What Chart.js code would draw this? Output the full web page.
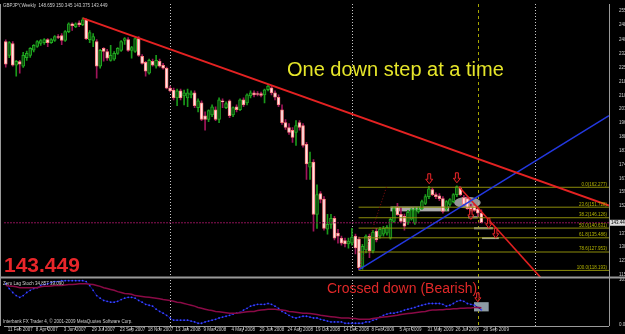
<!DOCTYPE html>
<html>
<head>
<meta charset="utf-8">
<title>GBPJPY Weekly</title>
<script src="https://cdn.jsdelivr.net/npm/chart.js@4.4.1/dist/chart.umd.min.js"></script>
<style>
  html, body { margin: 0; padding: 0; background: #000; }
  #wrap { position: relative; width: 625px; height: 334px; background: #000; }
</style>
</head>
<body>
<div id="wrap"><canvas id="chart" width="625" height="334"></canvas></div>
<script>
// weekly bars, bar 0 = 11 Feb 2007, last bar = 20 Sep 2009
const opens = [
  239.6, 232.2, 238.5, 227.0, 229.0, 226.5, 231.0, 232.2, 235.0, 237.0,
  238.5, 239.0, 240.6, 239.0, 240.1, 242.2, 242.7, 240.1, 244.8, 249.0,
  247.5, 249.5, 248.5, 251.1, 240.6, 240.1, 239.6, 226.5, 235.9, 234.3,
  229.6, 230.2, 233.3, 234.9, 240.1, 240.6, 234.9, 234.3, 241.1, 231.7,
  228.5, 222.8, 229.1, 226.5, 229.1, 227.0, 225.4, 214.9, 213.8, 209.7,
  213.4, 210.7, 209.7, 211.3, 212.3, 204.5, 207.1, 200.2, 198.2, 200.7,
  203.4, 198.2, 208.1, 204.5, 208.1, 200.7, 205.0, 203.4, 208.6, 207.0,
  210.7, 212.3, 212.0, 212.0, 211.3, 214.0, 215.0, 212.3, 210.0, 203.4,
  196.6, 194.0, 192.5, 191.4, 196.6, 195.0, 185.0, 173.0, 175.7, 147.9,
  158.9, 156.0, 140.0, 142.6, 145.8, 138.0, 135.3, 134.0, 132.2, 132.7,
  136.4, 134.8, 120.0, 129.0, 136.4, 128.5, 139.0, 136.4, 137.4, 138.0,
  135.3, 144.2, 151.9, 147.9, 146.9, 143.7, 145.3, 143.2, 149.5, 151.0,
  153.7, 157.3, 161.0, 158.4, 157.8, 156.3, 151.0, 153.2, 154.7, 158.4,
  162.0, 156.8, 156.3, 152.1, 152.6, 150.8, 148.659
];
const highs = [
  240.5, 239.5, 239.5, 229.6, 229.6, 233.8, 234.5, 236.4, 238.0, 240.1,
  240.6, 241.1, 241.1, 241.1, 242.7, 243.2, 243.8, 245.4, 249.5, 249.5,
  249.5, 250.6, 252.1, 251.6, 245.4, 243.8, 240.6, 235.4, 236.4, 235.4,
  237.5, 234.3, 236.4, 240.1, 241.6, 241.6, 237.0, 241.6, 242.2, 232.7,
  229.1, 230.2, 230.2, 232.2, 230.2, 228.0, 226.0, 216.0, 214.9, 214.4,
  214.4, 213.8, 214.4, 213.4, 213.4, 209.2, 208.1, 202.3, 203.4, 206.0,
  205.0, 209.7, 209.2, 207.6, 208.6, 205.0, 206.0, 209.2, 209.7, 211.8,
  213.4, 213.4, 213.0, 212.8, 214.4, 216.5, 216.0, 213.4, 211.3, 206.0,
  198.2, 196.0, 194.0, 197.6, 197.6, 196.1, 186.1, 181.0, 177.0, 163.6,
  160.0, 157.3, 147.9, 147.9, 146.9, 140.0, 136.4, 135.3, 135.3, 140.5,
  137.4, 135.9, 132.0, 137.0, 137.4, 139.5, 140.5, 141.0, 141.6, 142.0,
  146.0, 152.0, 153.7, 151.5, 148.0, 150.0, 151.0, 151.5, 152.0, 155.5,
  158.4, 162.8, 162.0, 159.4, 158.9, 157.3, 155.2, 156.3, 159.0, 163.1,
  162.6, 158.0, 157.0, 153.2, 153.2, 151.8, 150.345
];
const lows = [
  226.0, 231.0, 226.5, 221.2, 222.8, 225.8, 229.6, 231.2, 234.0, 236.4,
  237.5, 238.0, 236.9, 238.5, 239.6, 241.1, 237.9, 239.6, 244.3, 245.4,
  246.9, 247.5, 248.0, 240.6, 239.0, 236.9, 220.2, 225.4, 229.1, 229.6,
  229.1, 229.6, 232.7, 234.3, 238.0, 234.3, 230.7, 233.8, 231.7, 227.5,
  221.2, 222.3, 226.5, 225.4, 226.0, 224.9, 214.4, 212.8, 208.6, 205.5,
  208.6, 206.0, 205.0, 209.7, 204.5, 202.3, 197.6, 192.5, 197.1, 199.7,
  197.6, 196.6, 204.5, 203.9, 199.2, 199.7, 202.3, 202.9, 205.0, 206.0,
  209.7, 210.2, 210.7, 210.2, 207.0, 213.4, 211.3, 208.6, 205.0, 195.6,
  193.0, 190.3, 186.1, 184.5, 192.5, 183.5, 166.5, 166.5, 139.0, 140.5,
  154.0, 139.5, 137.4, 140.5, 134.3, 132.7, 131.6, 130.6, 130.0, 131.6,
  127.0, 118.5, 118.9, 127.5, 125.0, 127.5, 133.3, 135.3, 136.4, 136.9,
  134.8, 143.7, 147.4, 143.7, 139.5, 142.6, 144.8, 142.6, 148.5, 150.5,
  153.0, 156.3, 157.8, 156.3, 155.2, 148.5, 150.0, 152.1, 154.0, 157.3,
  157.8, 152.6, 150.5, 148.5, 149.5, 146.9, 143.375
];
const closes = [
  227.5, 239.0, 227.0, 229.1, 227.5, 232.2, 233.3, 235.9, 237.5, 239.6,
  240.1, 240.6, 239.0, 240.6, 242.2, 241.7, 240.1, 244.8, 249.0, 248.0,
  249.0, 248.5, 251.1, 241.1, 244.3, 242.2, 226.5, 234.9, 234.3, 230.7,
  232.2, 233.3, 235.9, 239.6, 241.1, 234.9, 236.4, 241.1, 232.2, 228.0,
  223.9, 229.6, 227.0, 229.6, 226.5, 225.4, 214.9, 213.4, 209.7, 213.4,
  209.7, 212.3, 212.3, 212.3, 205.5, 208.1, 198.2, 198.2, 202.9, 205.0,
  198.2, 208.6, 207.6, 206.6, 200.2, 204.5, 203.4, 208.6, 206.0, 211.3,
  212.3, 211.3, 211.5, 211.0, 213.9, 216.0, 212.3, 210.0, 206.0, 196.6,
  194.0, 191.4, 188.7, 195.0, 194.0, 184.5, 174.6, 175.7, 147.9, 158.4,
  155.8, 140.5, 142.6, 145.8, 135.3, 136.4, 132.7, 132.2, 133.8, 135.9,
  130.1, 119.6, 131.0, 136.4, 128.5, 138.5, 134.3, 140.0, 140.5, 141.0,
  145.3, 151.0, 147.8, 144.2, 141.6, 149.0, 150.5, 150.5, 150.5, 154.7,
  157.3, 161.5, 158.4, 157.3, 156.3, 149.5, 154.7, 155.8, 158.4, 162.6,
  158.4, 153.2, 151.0, 149.5, 150.0, 148.6, 143.449
];

// Zero Lag Stoch (main and signal line)
const stochMain = [
  94, 83, 74, 67, 63, 67, 74, 79, 83, 85,
  90, 92, 94, 97, 99, 99, 101, 101, 101, 101,
  101, 101, 101, 99, 90, 79, 67, 61, 56, 54,
  52, 52, 54, 58, 61, 63, 63, 61, 56, 52,
  47, 45, 43, 36, 31, 27, 22, 16, 11, 11,
  11, 11, 11, 9, 7, 4, 4, 7, 9, 11,
  13, 16, 18, 20, 22, 25, 27, 29, 34, 38,
  43, 45, 47, 47, 47, 49, 47, 43, 38, 31,
  27, 22, 18, 16, 18, 20, 20, 18, 16, 16,
  13, 11, 9, 7, 7, 7, 7, 4, 4, 4,
  4, 4, 4, 7, 7, 11, 13, 18, 22, 25,
  27, 27, 29, 31, 34, 36, 38, 40, 43, 45,
  47, 49, 49, 49, 49, 47, 43, 45, 49, 54,
  56, 54, 49, 47, 45, 40, 34.857
];
const stochSignal = [
  90, 89, 88, 87, 85, 85, 85, 85, 85, 85,
  87, 88, 88, 89, 90, 90, 90, 91, 92, 92,
  93, 94, 94, 94, 93, 92, 90, 88, 85, 83,
  81, 79, 76, 74, 72, 71, 70, 67, 66, 65,
  64, 63, 62, 61, 60, 58, 57, 56, 54, 52,
  51, 49, 47, 45, 43, 40, 38, 36, 34, 33,
  31, 30, 29, 28, 27, 27, 27, 28, 29, 30,
  31, 31, 33, 34, 35, 36, 36, 36, 35, 34,
  33, 31, 30, 29, 28, 27, 27, 26, 25, 24,
  22, 21, 20, 19, 18, 17, 16, 16, 16, 15,
  15, 13, 13, 13, 13, 15, 16, 17, 18, 19,
  20, 21, 22, 24, 25, 26, 27, 28, 29, 30,
  31, 33, 34, 34, 35, 35, 36, 36, 37, 37,
  38, 38, 39, 39, 40, 40, 39.090
];

const dateTicks = [0, 8, 16, 24, 32, 40, 48, 56, 64, 72, 80, 88, 96, 104, 112, 120, 128, 136];
const dateLabels = ['11 Feb 2007', '8 Apr 2007', '3 Jun 2007', '29 Jul 2007', '23 Sep 2007', '18 Nov 2007',
  '13 Jan 2008', '9 Mar 2008', '4 May 2008', '29 Jun 2008', '24 Aug 2008', '19 Oct 2008',
  '14 Dec 2008', '8 Feb 2009', '5 Apr 2009', '31 May 2009', '26 Jul 2009', '20 Sep 2009'];
const priceTicks = [255.800, 248.575, 240.375, 232.850, 225.750, 218.325, 210.900, 203.700, 196.275,
  188.875, 181.650, 174.450, 167.025, 159.800, 152.400, 137.775, 130.575, 123.150, 115.950];
const stochTicks = [103.451, 0];
const stochTickLabels = ['103.451', '0.00'];
const lastPrice = 143.449;

// drawn objects: [barIndex, price]
const redTrend = [[22, 252.0], [172.5, 152.6]];
const blueTrend = [[101, 118.6], [172.5, 200.3]];
const redDown = [[129.6, 162.6], [152.9, 114.5]];
const dottedUp = [[101.2, 119.6], [108.9, 162.6]];
const fibStart = 100.9;
const fibLevels = [162.277, 151.728, 146.126, 140.631, 135.486, 127.953, 118.193];
const fibNames = ['0.0', '23.6', '38.2', '50.0', '61.8', '78.6', '100.0'];
const yearSeparators = [46.9, 98.9, 151.2];
const markerBar = 135;
const greyBoxes = [[110.0, 126.8, 152.1, 149.5], [132.2, 135.0, 146.9, 145.8],
  [133.9, 139.3, 141.1, 140.0], [136.2, 141.0, 135.9, 134.8]];
const greyEllipse = [132.0, 154.2, 3.8, 3.1];
const bigArrows = [[121.1, 166.8], [129.0, 167.3]];
const smallArrows = [[133.0, 147.9], [138.1, 143.2], [140.1, 137.9]];
const stochArrow = [135.0, 63];
const stochBox = [133.9, 138.1, 52, 31];

const FONT = "'Liberation Sans', Arial, sans-serif";
const bull = opens.map((o, i) => closes[i] >= o);

const lineSet = (pts, color, width, dash, axis) => ({
  type: 'line',
  data: pts.map(([x, y]) => ({ x, y })),
  borderColor: color,
  borderWidth: width,
  borderDash: dash || [],
  pointRadius: 0,
  yAxisID: axis || 'y',
  order: 0
});

function drawArrow(ctx, cx, cy, w, h) {
  const sw = w * 0.42, hh = h * 0.45;
  ctx.beginPath();
  ctx.moveTo(cx - sw / 2, cy - h / 2);
  ctx.lineTo(cx + sw / 2, cy - h / 2);
  ctx.lineTo(cx + sw / 2, cy + h / 2 - hh);
  ctx.lineTo(cx + w / 2, cy + h / 2 - hh);
  ctx.lineTo(cx, cy + h / 2);
  ctx.lineTo(cx - w / 2, cy + h / 2 - hh);
  ctx.lineTo(cx - sw / 2, cy + h / 2 - hh);
  ctx.closePath();
  ctx.fillStyle = 'rgba(40,0,0,0.6)';
  ctx.fill();
  ctx.strokeStyle = '#e8262a';
  ctx.lineWidth = 1;
  ctx.stroke();
}

const overlay = {
  id: 'overlay',
  beforeDatasetsDraw(chart) {
    const { ctx, chartArea: a, scales: { x, y, y2 } } = chart;
    ctx.save();
    ctx.lineWidth = 1;
    ctx.strokeStyle = '#c8c8c8';
    ctx.setLineDash([1, 2]);
    yearSeparators.forEach(i => {
      const p = Math.round(x.getPixelForValue(i)) + 0.5;
      ctx.beginPath(); ctx.moveTo(p, a.top); ctx.lineTo(p, a.bottom); ctx.stroke();
    });
    ctx.strokeStyle = '#a6a600';
    ctx.setLineDash([3, 3]);
    const m = Math.round(x.getPixelForValue(markerBar)) + 0.5;
    ctx.beginPath(); ctx.moveTo(m, a.top); ctx.lineTo(m, a.bottom); ctx.stroke();
    ctx.setLineDash([]);

    ctx.fillStyle = '#ababab';
    greyBoxes.forEach(([i1, i2, p1, p2]) => {
      const l = x.getPixelForValue(i1), r = x.getPixelForValue(i2);
      const t = y.getPixelForValue(p1), b = y.getPixelForValue(p2);
      ctx.fillRect(l, t, r - l, b - t);
    });
    const [ei, ep, erx, ery] = greyEllipse;
    const ecx = x.getPixelForValue(ei), ecy = y.getPixelForValue(ep);
    ctx.fillStyle = 'rgba(175,175,175,0.85)';
    ctx.beginPath();
    ctx.ellipse(ecx, ecy, x.getPixelForValue(ei + erx) - ecx, ecy - y.getPixelForValue(ep + ery), 0, 0, Math.PI * 2);
    ctx.fill();

    const [b1, b2, v1, v2] = stochBox;
    ctx.fillStyle = '#8d9ba4';
    ctx.fillRect(x.getPixelForValue(b1), y2.getPixelForValue(v1),
      x.getPixelForValue(b2) - x.getPixelForValue(b1), y2.getPixelForValue(v2) - y2.getPixelForValue(v1));
    ctx.restore();
  },
  afterDatasetsDraw(chart) {
    const { ctx, chartArea: a, scales: { x, y, y2 } } = chart;
    ctx.save();
    // frame
    ctx.strokeStyle = '#9a9a9a';
    ctx.lineWidth = 1;
    ctx.beginPath();
    ctx.moveTo(0.5, a.top); ctx.lineTo(0.5, a.bottom);
    ctx.moveTo(a.right + 0.5, a.top); ctx.lineTo(a.right + 0.5, a.bottom);
    ctx.moveTo(a.left, a.bottom + 0.5); ctx.lineTo(a.right, a.bottom + 0.5);
    ctx.stroke();
    ctx.lineWidth = 2;
    ctx.beginPath();
    ctx.moveTo(0, y.bottom); ctx.lineTo(chart.width, y.bottom);
    ctx.stroke();

    // fibonacci labels
    ctx.font = '4.5px ' + FONT;
    ctx.fillStyle = '#b5b500';
    ctx.textAlign = 'right';
    ctx.textBaseline = 'bottom';
    fibLevels.forEach((p, k) => {
      ctx.fillText(fibNames[k] + '(' + p.toFixed(3) + ')', a.right - 2, y.getPixelForValue(p) - 0.5);
    });

    // arrows
    bigArrows.forEach(([i, p]) => drawArrow(ctx, x.getPixelForValue(i), y.getPixelForValue(p), 7, 10));
    smallArrows.forEach(([i, p]) => drawArrow(ctx, x.getPixelForValue(i), y.getPixelForValue(p), 6, 10));
    drawArrow(ctx, x.getPixelForValue(stochArrow[0]), y2.getPixelForValue(stochArrow[1]), 6, 9);

    // texts
    ctx.textAlign = 'left';
    ctx.textBaseline = 'alphabetic';
    ctx.font = '4.5px ' + FONT;
    ctx.fillStyle = '#d0d0d0';
    ctx.fillText('GBPJPY,Weekly  148.659 150.345 143.375 143.449', 3, 7);
    ctx.fillText('Zero Lag Stoch 34.857 39.090', 3, 285);
    ctx.fillText('Interbank FX Trader 4, \u00a9 2001-2009 MetaQuotes Software Corp.', 3, 323);

    ctx.font = '20px ' + FONT;
    ctx.fillStyle = '#e6e62a';
    ctx.fillText('One down step at a time', 287, 76);

    ctx.font = 'bold 21px ' + FONT;
    ctx.fillStyle = '#e8262a';
    ctx.fillText('143.449', 4, 272);

    ctx.font = '14px ' + FONT;
    ctx.fillStyle = '#e02828';
    ctx.fillText('Crossed down (Bearish)', 327, 293);

    // current price tag on the axis
    const cy = y.getPixelForValue(lastPrice);
    ctx.fillStyle = '#dcdcdc';
    ctx.fillRect(a.right + 1, cy - 3, chart.width - a.right - 1, 6);
    ctx.fillStyle = '#000';
    ctx.font = '4.5px ' + FONT;
    ctx.textBaseline = 'middle';
    ctx.fillText(lastPrice.toFixed(3), a.right + 2, cy);
    ctx.restore();
  }
};

const datasets = [
  lineSet(redTrend, '#e42222', 2),
  lineSet(blueTrend, '#2338e0', 1.5),
  lineSet(redDown, '#e02020', 1.5),
  lineSet(dottedUp, '#8a1010', 1, [1, 2]),
  {
    type: 'bar',
    data: opens.map((o, i) => ({ x: i, y: [o, closes[i]] })),
    backgroundColor: bull.map(b => b ? '#0b4a0b' : '#ffe4e4'),
    borderColor: bull.map(b => b ? '#22a822' : '#ff7d7d'),
    borderWidth: 1,
    borderSkipped: false,
    barThickness: 3,
    minBarLength: 1,
    grouped: false,
    yAxisID: 'y',
    order: 2
  },
  {
    type: 'bar',
    data: lows.map((l, i) => ({ x: i, y: [l, highs[i]] })),
    backgroundColor: bull.map(b => b ? '#1a9a1a' : '#a0145a'),
    barThickness: 1,
    grouped: false,
    yAxisID: 'y',
    order: 3
  },
  lineSet([[-0.5, lastPrice], [172.5, lastPrice]], '#8c1256', 1, [2, 1]),
  ...fibLevels.map(p => ({ ...lineSet([[fibStart, p], [172.5, p]], '#8c8c0a', 1), order: 1 })),
  {
    type: 'line',
    data: stochSignal.map((v, i) => ({ x: i, y: v })),
    borderColor: '#8a0a46',
    borderWidth: 1.5,
    pointRadius: 0,
    yAxisID: 'y2',
    order: 1
  },
  {
    type: 'line',
    data: stochMain.map((v, i) => ({ x: i, y: v })),
    borderColor: '#0c0c8c',
    borderWidth: 1,
    pointRadius: 0.9,
    pointBorderWidth: 0,
    pointBackgroundColor: '#3848ff',
    yAxisID: 'y2',
    order: 1
  }
];

new Chart(document.getElementById('chart'), {
  type: 'bar',
  data: { datasets },
  plugins: [overlay],
  options: {
    responsive: false,
    animation: false,
    devicePixelRatio: 1,
    layout: { padding: 0 },
    plugins: { legend: { display: false }, tooltip: { enabled: false } },
    scales: {
      x: {
        type: 'linear',
        min: -0.5,
        max: 172.5,
        offset: false,
        afterBuildTicks: s => { s.ticks = dateTicks.map(v => ({ value: v })); },
        afterFit: s => { s.height = 8; s.paddingLeft = 0; s.paddingRight = 0; },
        ticks: {
          callback: (v, i) => dateLabels[i],
          align: 'start',
          labelOffset: 2,
          padding: -3,
          autoSkip: false,
          maxRotation: 0,
          color: '#cfcfcf',
          font: { size: 4.5, family: FONT }
        },
        grid: { drawOnChartArea: false, tickLength: 4, color: '#9a9a9a' },
        border: { display: false }
      },
      y: {
        type: 'linear',
        position: 'right',
        stack: 'panes',
        stackWeight: 277,
        min: 114.38,
        max: 259.47,
        afterBuildTicks: s => { s.ticks = priceTicks.map(v => ({ value: v })); },
        afterFit: s => { s.width = 16; s.paddingTop = 0; s.paddingBottom = 0; },
        ticks: {
          callback: v => v.toFixed(3),
          autoSkip: false,
          padding: 2,
          color: '#cfcfcf',
          font: { size: 4.5, family: FONT }
        },
        grid: { display: false },
        border: { display: false }
      },
      y2: {
        type: 'linear',
        position: 'right',
        stack: 'panes',
        stackWeight: 49,
        min: -2.249,
        max: 107.95,
        afterBuildTicks: s => { s.ticks = stochTicks.map(v => ({ value: v })); },
        afterFit: s => { s.width = 16; s.paddingTop = 0; s.paddingBottom = 0; },
        ticks: {
          callback: (v, i) => stochTickLabels[i],
          autoSkip: false,
          padding: 2,
          color: '#cfcfcf',
          font: { size: 4.5, family: FONT }
        },
        grid: { display: false },
        border: { display: false }
      }
    }
  }
});
</script>
</body>
</html>
